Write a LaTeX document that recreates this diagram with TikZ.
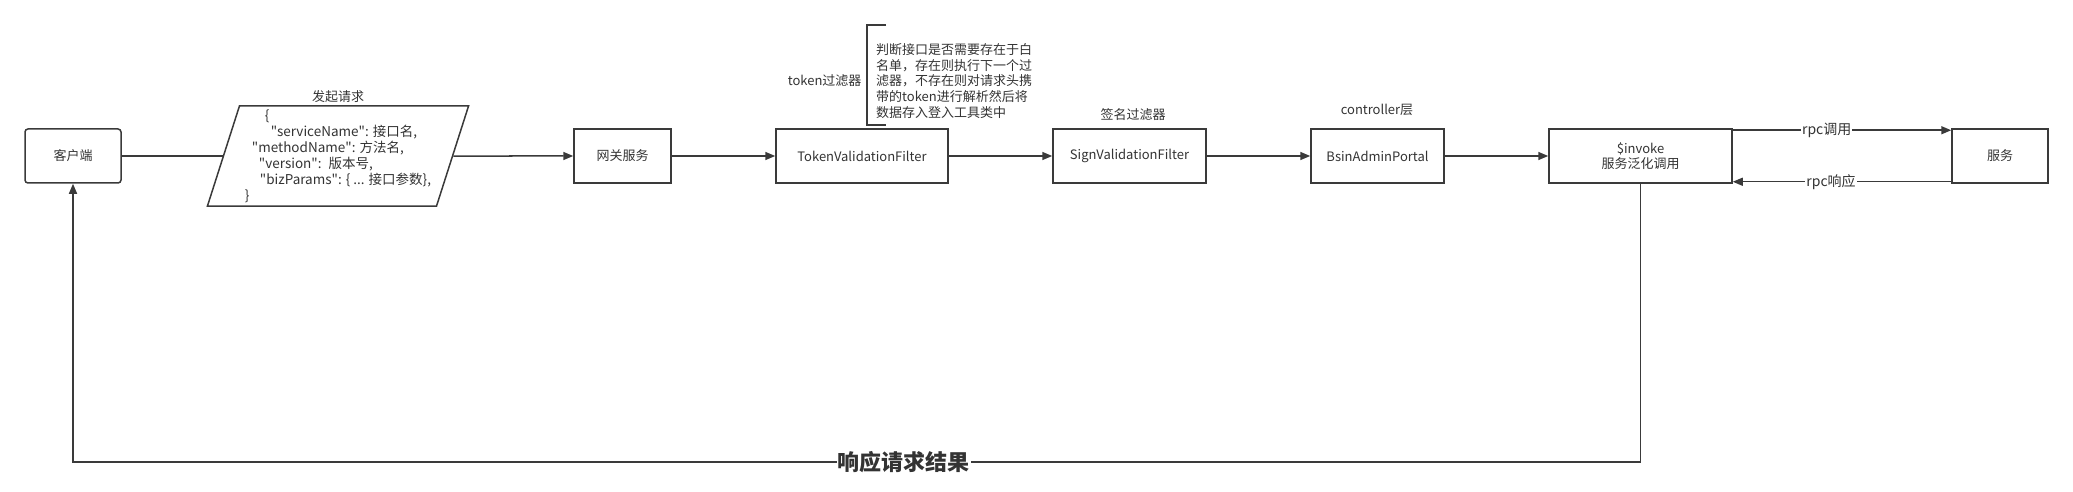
\documentclass[tikz,border=0pt]{standalone}
\usepackage{fontspec}
\setmainfont{Noto Sans CJK SC}[Ligatures=TeXOff]
\usetikzlibrary{shapes.geometric,arrows.meta}
\definecolor{ln}{HTML}{3A3A3A}
\definecolor{tx}{HTML}{333333}
\begin{document}
\begin{tikzpicture}[x=1pt,y=-1pt,every node/.style={text=tx,font=\fontsize{13}{15.6}\selectfont},
box/.style={draw=ln,line width=1.5pt,minimum height=54pt,inner sep=0pt},
lin/.style={draw=ln,line width=1.5pt},
arr/.style={lin,-{Triangle[length=10pt,width=8pt]}}]
\useasboundingbox (0,0) rectangle (2073,492);
\node[box,rounded corners=3pt,minimum width=96pt] (e0) at (73,156) {客户端};
\node[box,trapezium,trapezium left angle=72,trapezium right angle=108,trapezium stretches,minimum width=262pt,minimum height=100pt,align=left,font=\fontsize{13.5}{16}\selectfont] (e1) at (338,156)
{\hspace*{20pt}\{\\
\hspace*{26pt}"serviceName": 接口名,\\
\hspace*{7pt}"methodName": 方法名,\\
\hspace*{14pt}"version":~ 版本号,\\
\hspace*{15pt}"bizParams": \{ ... 接口参数\},\\
\}};
\node[box,minimum width=97pt] (e2) at (622.5,156) {网关服务};
\node[box,minimum width=172pt] (e3) at (862,156) {TokenValidationFilter};
\node[box,minimum width=153pt] (e4) at (1129.5,156) {SignValidationFilter};
\node[box,minimum width=133pt] (e5) at (1377.5,156) {BsinAdminPortal};
\node[box,minimum width=183pt,align=center] (e6) at (1640.5,156) {\$invoke\\服务泛化调用};
\node[box,minimum width=96pt] (e7) at (2000,156) {服务};
\node (e1t) at (338,97) {发起请求};
\node[anchor=east] (e3t) at (865,81) {token过滤器};
\node[anchor=west,align=left,inner sep=0pt] (e3n) at (876,81) {判断接口是否需要存在于白\\名单，存在则执行下一个过\\滤器，不存在则对请求头携\\带的token进行解析然后将\\数据存入登入工具类中};
\node (e4t) at (1133,115) {签名过滤器};
\node (e5t) at (1377,110) {controller层};
\draw[lin] (886,25) -- (867,25) -- (867,125) -- (886,125);
\draw[lin] (e0) -- (e1);
\draw[arr] (e1) -- (e2);
\draw[arr] (e2) -- (e3);
\draw[arr] (e3) -- (e4);
\draw[arr] (e4) -- (e5);
\draw[arr] (e5) -- (e6);
\draw[arr] ([yshift=-2pt]e6.north east) -- node[pos=0.43,fill=white,inner sep=1pt,font=\fontsize{14}{16}\selectfont] {rpc调用} ([yshift=-2pt]e7.north west);
\draw[arr] ([yshift=2pt]e7.south west) -- node[pos=0.55,fill=white,inner sep=1pt,font=\fontsize{14}{16}\selectfont] {rpc响应} ([yshift=2pt]e6.south east);
\coordinate (c0) at (73,462);
\draw[arr] (e6.south) |- node[pos=0.735,fill=white,inner sep=1pt,font=\bfseries\fontsize{22}{26}\selectfont] {响应请求结果} (c0) -- (e0.south);
\end{tikzpicture}
\end{document}
